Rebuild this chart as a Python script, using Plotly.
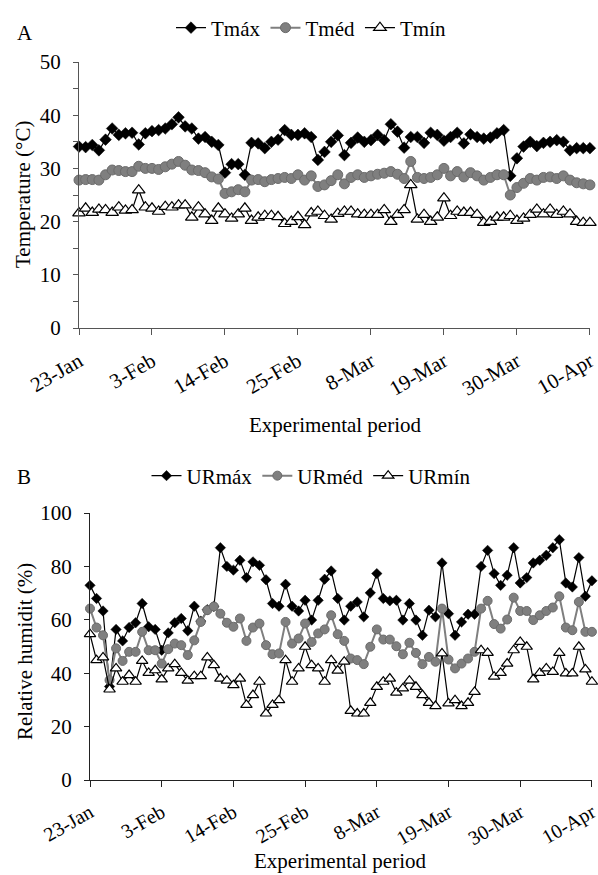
import pandas as pd
import plotly.graph_objects as go

# ---------------- data ----------------
START_DATE = "2019-01-23"
END_DATE = "2019-04-10"
TICK_LABELS = ["23-Jan", "3-Feb", "14-Feb", "25-Feb", "8-Mar", "19-Mar", "30-Mar", "10-Apr"]

T_MAX = [34.1, 34.0, 34.4, 33.4, 35.4, 37.5, 36.3, 36.6, 36.7, 34.5,
         36.6, 37.0, 37.2, 37.5, 38.3, 39.6, 37.9, 37.5, 35.6, 35.9,
         35.0, 34.4, 29.2, 30.8, 30.8, 28.8, 34.8, 34.7, 33.8, 35.0,
         35.4, 37.2, 36.3, 36.3, 36.6, 35.9, 31.6, 33.1, 35.0, 36.2,
         32.5, 34.8, 35.8, 35.0, 35.3, 36.3, 35.3, 38.3, 36.9, 33.9,
         35.9, 35.9, 34.8, 36.7, 36.3, 35.2, 35.9, 36.7, 34.7, 36.4,
         35.9, 35.6, 35.8, 36.6, 37.2, 28.6, 31.9, 34.1, 35.0, 34.2,
         34.8, 35.0, 35.3, 35.0, 33.4, 33.8, 33.8, 33.8]
T_MED = [27.8, 27.9, 27.9, 27.8, 28.8, 29.7, 29.6, 29.4, 29.4, 30.4,
         30.0, 30.0, 29.8, 30.3, 30.8, 31.3, 30.6, 29.7, 29.6, 29.2,
         28.4, 28.0, 25.3, 25.6, 26.0, 25.6, 27.8, 27.9, 27.5, 27.9,
         28.1, 28.3, 28.1, 28.8, 27.8, 28.6, 26.6, 26.9, 27.7, 28.8,
         27.1, 28.3, 28.8, 28.3, 28.6, 28.9, 29.1, 29.4, 28.9, 28.1,
         31.3, 28.3, 28.1, 28.3, 28.8, 30.0, 28.6, 29.4, 28.4, 29.2,
         28.6, 27.8, 28.3, 28.8, 28.8, 25.0, 26.4, 27.2, 28.1, 27.8,
         28.3, 28.4, 28.1, 28.6, 27.8, 27.3, 27.1, 26.9]
T_MIN = [21.6, 22.5, 21.7, 22.3, 22.2, 21.7, 22.7, 22.1, 22.2, 25.9,
         22.7, 22.5, 21.9, 22.8, 22.7, 23.1, 23.1, 20.8, 22.7, 21.4,
         20.2, 22.5, 21.4, 20.6, 21.4, 22.5, 20.2, 20.8, 21.1, 21.1,
         20.9, 19.6, 20.0, 20.9, 19.4, 21.6, 21.9, 21.1, 20.4, 21.5,
         21.9, 21.9, 21.4, 21.3, 21.3, 21.3, 22.2, 20.0, 21.3, 22.2,
         26.9, 20.4, 21.3, 20.0, 20.8, 24.4, 21.1, 21.9, 21.7, 21.7,
         21.3, 19.8, 20.0, 20.8, 20.8, 21.1, 20.2, 20.6, 21.3, 22.3,
         21.4, 22.3, 21.3, 21.9, 21.4, 20.0, 19.8, 19.8]

UR_MAX = [72.9, 68.0, 63.3, 35.0, 56.4, 52.1, 57.1, 58.9, 66.1, 57.4,
          56.4, 48.6, 55.1, 58.9, 60.5, 55.9, 65.1, 59.5, 63.8, 65.0,
          87.0, 80.0, 78.6, 82.3, 75.8, 81.7, 80.4, 75.0, 66.1, 65.1,
          73.3, 65.1, 63.3, 67.3, 59.9, 67.3, 75.2, 78.3, 68.0, 59.9,
          65.1, 66.7, 61.1, 70.1, 77.3, 68.0, 67.1, 67.3, 59.9, 66.1,
          59.9, 54.2, 63.6, 61.1, 81.3, 62.3, 54.2, 59.2, 62.1, 62.1,
          80.0, 86.0, 77.3, 72.9, 76.7, 87.0, 73.8, 75.8, 81.3, 82.3,
          84.2, 87.0, 90.0, 73.8, 72.3, 83.3, 68.8, 74.6]
UR_MED = [64.2, 57.1, 54.2, 37.4, 49.3, 44.6, 48.0, 48.0, 55.5, 48.6,
          48.6, 43.6, 49.0, 51.1, 50.5, 46.8, 52.3, 59.2, 63.6, 65.0,
          62.3, 58.9, 57.4, 60.5, 52.1, 57.1, 58.6, 50.5, 47.1, 47.4,
          59.2, 51.1, 53.0, 58.6, 51.7, 54.9, 56.4, 61.7, 54.6, 52.1,
          45.5, 44.9, 43.4, 49.9, 56.4, 52.6, 52.6, 50.1, 47.1, 51.4,
          47.6, 43.4, 46.1, 44.3, 64.2, 45.1, 41.8, 43.6, 45.5, 48.0,
          64.2, 67.1, 58.4, 56.7, 60.1, 68.3, 63.3, 63.3, 59.9, 61.7,
          63.3, 64.6, 68.8, 57.1, 56.1, 66.7, 55.5, 55.5]
UR_MIN = [54.6, 44.9, 45.9, 33.9, 41.8, 36.8, 39.3, 36.8, 44.6, 40.1,
          41.1, 37.7, 41.8, 43.4, 40.1, 37.2, 38.9, 38.9, 45.9, 43.0,
          38.0, 37.2, 35.5, 38.0, 28.1, 31.8, 36.8, 24.9, 28.1, 29.9,
          44.9, 36.8, 41.8, 49.9, 43.0, 41.8, 36.8, 44.9, 41.0, 44.3,
          25.9, 24.9, 24.9, 28.9, 34.9, 36.8, 38.0, 32.7, 34.3, 37.2,
          34.9, 31.8, 28.9, 27.7, 47.4, 28.7, 29.9, 27.7, 28.9, 33.0,
          48.6, 47.6, 38.7, 40.1, 43.6, 48.6, 51.7, 49.9, 37.7, 40.1,
          41.8, 40.5, 47.6, 39.9, 39.9, 49.9, 41.4, 36.8]

DATES = pd.date_range(START_DATE, END_DATE, freq="D")
TICK_DATES = DATES[::11]

# ---------------- styling ----------------
W, H = 598, 875
FONT = "Liberation Serif, 'Times New Roman', Times, serif"
FS = 21

def px_x(p):
    return p / W

def px_y(p):
    return 1 - p / H

fig = go.Figure()

def add_series(y, name, kind, xa, ya, legend, msize):
    if kind == "max":
        marker = dict(symbol="diamond", size=msize, color="#000000",
                      line=dict(color="#000000", width=0.5))
        line = dict(color="#000000", width=1.2)
    elif kind == "med":
        marker = dict(symbol="circle", size=msize, color="#7f7f7f",
                      line=dict(color="#6b6b6b", width=1))
        line = dict(color="#7f7f7f", width=2)
    else:
        marker = dict(symbol="triangle-up", size=msize + 1, color="#ffffff",
                      line=dict(color="#000000", width=1.2))
        line = dict(color="#000000", width=1.2)
    fig.add_trace(go.Scatter(x=DATES, y=y, name=name, mode="lines+markers",
                             marker=marker, line=line, xaxis=xa, yaxis=ya,
                             legend=legend, cliponaxis=False))

add_series(T_MAX, "Tmáx", "max", "x", "y", "legend", 9)
add_series(T_MED, "Tméd", "med", "x", "y", "legend", 10)
add_series(T_MIN, "Tmín", "min", "x", "y", "legend", 10)
add_series(UR_MAX, "URmáx", "max", "x2", "y2", "legend2", 8)
add_series(UR_MED, "URméd", "med", "x2", "y2", "legend2", 9)
add_series(UR_MIN, "URmín", "min", "x2", "y2", "legend2", 9)

axis_font = dict(family=FONT, size=FS, color="#000000")
TOP_AX = "#555555"
BOT_AX = "#222222"

x_end = DATES[-1] + pd.Timedelta(minutes=20)
xcommon = dict(type="date", range=[DATES[0], x_end], tickmode="array",
               tickvals=list(TICK_DATES), ticktext=TICK_LABELS, tickangle=-30,
               ticks="outside", ticklen=6, showline=True, showgrid=False,
               zeroline=False, automargin=False,
               ticklabeloverflow="allow", ticklabelstandoff=6)

fig.update_layout(
    width=W, height=H,
    margin=dict(l=0, r=0, t=0, b=0, autoexpand=False),
    paper_bgcolor="white", plot_bgcolor="white",
    font=dict(family=FONT, size=FS, color="#000000"),
    xaxis=dict(domain=[px_x(79), px_x(590)], anchor="y",
               linecolor=TOP_AX, tickcolor=TOP_AX, tickfont=axis_font, **xcommon),
    yaxis=dict(domain=[px_y(328), px_y(62)], anchor="x", range=[0, 50],
               tickmode="array", tickvals=[0, 5, 10, 15, 20, 25, 30, 35, 40, 45, 50],
               ticktext=["0", "", "10", "", "20", "", "30", "", "40", "", "50"],
               ticks="outside", ticklen=5, showline=True, linecolor=TOP_AX,
               tickcolor=TOP_AX, showgrid=False, zeroline=False,
               tickfont=axis_font, ticklabelstandoff=8, automargin=False),
    xaxis2=dict(domain=[px_x(90), px_x(592)], anchor="y2",
                linecolor=BOT_AX, tickcolor=BOT_AX,
                tickfont=dict(family=FONT, size=20, color="#000000"), **xcommon),
    yaxis2=dict(domain=[px_y(780), px_y(513)], anchor="x2", range=[0, 100],
                tickmode="array", tickvals=[0, 20, 40, 60, 80, 100],
                ticks="outside", ticklen=5, showline=True, linecolor=BOT_AX,
                tickcolor=BOT_AX, showgrid=False, zeroline=False,
                tickfont=axis_font, ticklabelstandoff=8, automargin=False),
    legend=dict(orientation="h", x=px_x(311), xanchor="center",
                y=px_y(28), yanchor="middle", bgcolor="rgba(0,0,0,0)",
                font=dict(family=FONT, size=FS), itemwidth=30),
    legend2=dict(orientation="h", x=px_x(311), xanchor="center",
                 y=px_y(476), yanchor="middle", bgcolor="rgba(0,0,0,0)",
                 font=dict(family=FONT, size=FS), itemwidth=30),
    showlegend=True,
)

ann = [
    dict(text="A", x=px_x(15), y=px_y(33), xanchor="left", yanchor="middle"),
    dict(text="B", x=px_x(15), y=px_y(477), xanchor="left", yanchor="middle"),
    dict(text="Temperature (°C)", x=px_x(23), y=px_y(195), textangle=-90,
         xanchor="center", yanchor="middle"),
    dict(text="Relative humidit (%)", x=px_x(25), y=px_y(652), textangle=-90,
         xanchor="center", yanchor="middle"),
    dict(text="Experimental period", x=px_x(335), y=px_y(425),
         xanchor="center", yanchor="middle"),
    dict(text="Experimental period", x=px_x(340), y=px_y(861),
         xanchor="center", yanchor="middle"),
]
for a in ann:
    a.update(xref="paper", yref="paper", showarrow=False,
             font=dict(family=FONT, size=FS, color="#000000"))
fig.update_layout(annotations=ann)

fig.write_html("out.html",
               config={"displayModeBar": False},
               post_script="document.body.style.margin='0px';"
                           "document.body.style.padding='0px';")
